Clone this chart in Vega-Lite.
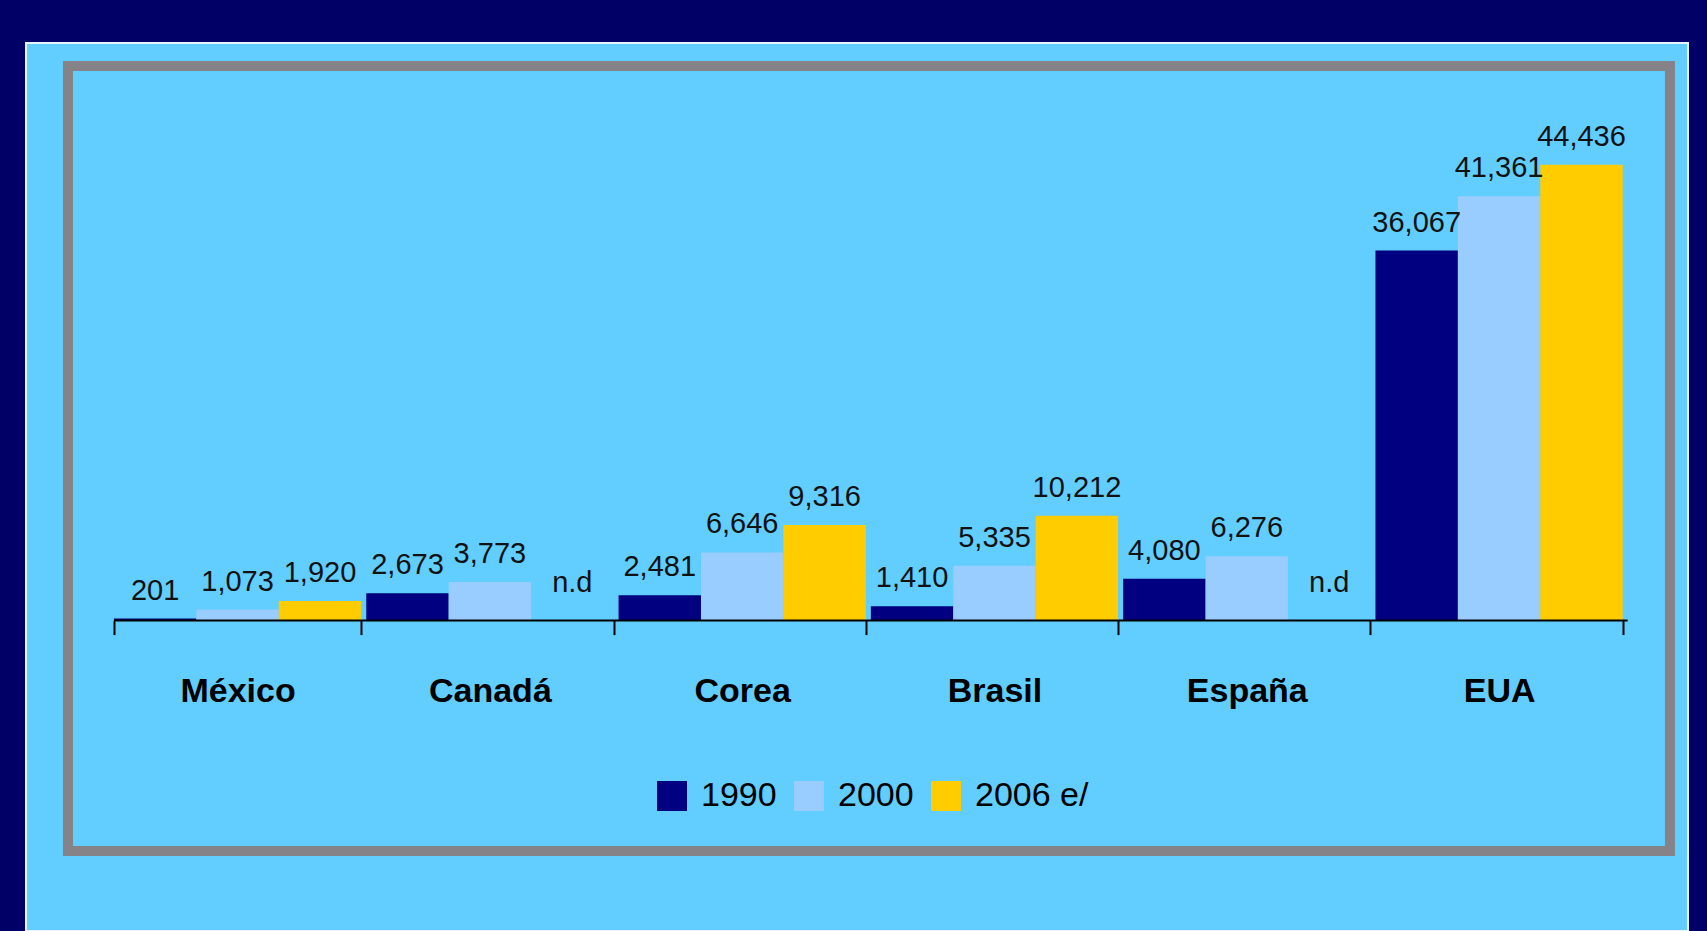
{
  "$schema": "https://vega.github.io/schema/vega-lite/v6.json",
  "width": 1662,
  "height": 888,
  "autosize": {"type": "none"},
  "padding": {"left": 26, "top": 43, "right": 19, "bottom": 0},
  "background": "#000066",
  "view": {"fill": "#62CDFF", "stroke": "#E6F2FF", "strokeWidth": 2},
  "config": {
    "font": "Liberation Sans, Arial, sans-serif"
  },
  "data": {
    "values": [
      {"country": "México", "year": "1990", "value": 201},
      {"country": "México", "year": "2000", "value": 1073},
      {"country": "México", "year": "2006 e/", "value": 1920},
      {"country": "Canadá", "year": "1990", "value": 2673},
      {"country": "Canadá", "year": "2000", "value": 3773},
      {"country": "Canadá", "year": "2006 e/", "value": null},
      {"country": "Corea", "year": "1990", "value": 2481},
      {"country": "Corea", "year": "2000", "value": 6646},
      {"country": "Corea", "year": "2006 e/", "value": 9316},
      {"country": "Brasil", "year": "1990", "value": 1410},
      {"country": "Brasil", "year": "2000", "value": 5335},
      {"country": "Brasil", "year": "2006 e/", "value": 10212},
      {"country": "España", "year": "1990", "value": 4080},
      {"country": "España", "year": "2000", "value": 6276},
      {"country": "España", "year": "2006 e/", "value": null},
      {"country": "EUA", "year": "1990", "value": 36067},
      {"country": "EUA", "year": "2000", "value": 41361},
      {"country": "EUA", "year": "2006 e/", "value": 44436}
    ]
  },
  "layer": [
    {
      "mark": {"type": "bar"},
      "transform": [{"filter": "datum.value != null"}],
      "encoding": {
        "x": {
          "field": "country",
          "type": "nominal",
          "sort": ["México", "Canadá", "Corea", "Brasil", "España", "EUA"],
          "scale": {"paddingInner": 0.02, "paddingOuter": 0.3037, "align": 0.574},
          "axis": {
            "orient": "bottom",
            "offset": -310.4,
            "domain": false,
            "grid": false,
            "tickBand": "extent",
            "tickSize": 14,
            "tickWidth": 2,
            "tickColor": "#000000",
            "labelAngle": 0,
            "labelFont": "Liberation Sans, Arial, sans-serif",
            "labelFontWeight": "bold",
            "labelFontSize": 34,
            "labelColor": "#000000",
            "labelPadding": 67,
            "labelBaseline": "alphabetic",
            "title": null
          }
        },
        "xOffset": {
          "field": "year",
          "type": "nominal",
          "sort": ["1990", "2000", "2006 e/"],
          "scale": {"paddingInner": 0, "paddingOuter": 0}
        },
        "y": {
          "field": "value",
          "type": "quantitative",
          "scale": {"domain": [-30253, 56296], "nice": false, "zero": false},
          "axis": null
        },
        "color": {
          "field": "year",
          "type": "nominal",
          "sort": ["1990", "2000", "2006 e/"],
          "scale": {"domain": ["1990", "2000", "2006 e/"], "range": ["#000080", "#99CCFF", "#FFCC00"]},
          "legend": {
            "orient": "none",
            "legendX": 629,
            "legendY": 736,
            "direction": "horizontal",
            "title": null,
            "padding": 0,
            "symbolType": "square",
            "symbolSize": 900,
            "symbolStrokeWidth": 0,
            "symbolOpacity": 1,
            "labelFont": "Liberation Sans, Arial, sans-serif",
            "labelFontSize": 34,
            "labelColor": "#000000",
            "labelOffset": 12,
            "columnPadding": 15
          }
        }
      }
    },
    {
      "mark": {"type": "text", "baseline": "alphabetic", "align": "center", "dy": -19, "fontSize": 29, "color": "#111111"},
      "transform": [{"filter": "datum.value != null"}],
      "encoding": {
        "x": {"field": "country", "type": "nominal", "sort": ["México", "Canadá", "Corea", "Brasil", "España", "EUA"]},
        "xOffset": {"field": "year", "type": "nominal", "sort": ["1990", "2000", "2006 e/"]},
        "y": {"field": "value", "type": "quantitative"},
        "text": {"field": "value", "type": "quantitative", "format": ","}
      }
    },
    {
      "mark": {"type": "text", "baseline": "alphabetic", "align": "center", "dy": -29, "fontSize": 29, "color": "#111111"},
      "transform": [{"filter": "datum.value == null"}],
      "encoding": {
        "x": {"field": "country", "type": "nominal", "sort": ["México", "Canadá", "Corea", "Brasil", "España", "EUA"]},
        "xOffset": {"field": "year", "type": "nominal", "sort": ["1990", "2000", "2006 e/"]},
        "y": {"datum": 0, "type": "quantitative"},
        "text": {"value": "n.d"}
      }
    },
    {
      "data": {"values": [{}]},
      "mark": {"type": "rule", "color": "#000000", "strokeWidth": 2},
      "encoding": {
        "x": {"datum": "México", "type": "nominal", "bandPosition": 0},
        "x2": {"datum": "EUA", "bandPosition": 1.02},
        "y": {"datum": 0, "type": "quantitative"}
      }
    },
    {
      "data": {"values": [{}]},
      "mark": {"type": "rect", "filled": false, "stroke": "#858288", "strokeWidth": 10},
      "encoding": {
        "x": {"datum": "México", "type": "nominal", "bandPosition": -0.186},
        "x2": {"datum": "EUA", "bandPosition": 1.191},
        "y": {"datum": 54054, "type": "quantitative"},
        "y2": {"datum": -22456}
      }
    }
  ]
}
